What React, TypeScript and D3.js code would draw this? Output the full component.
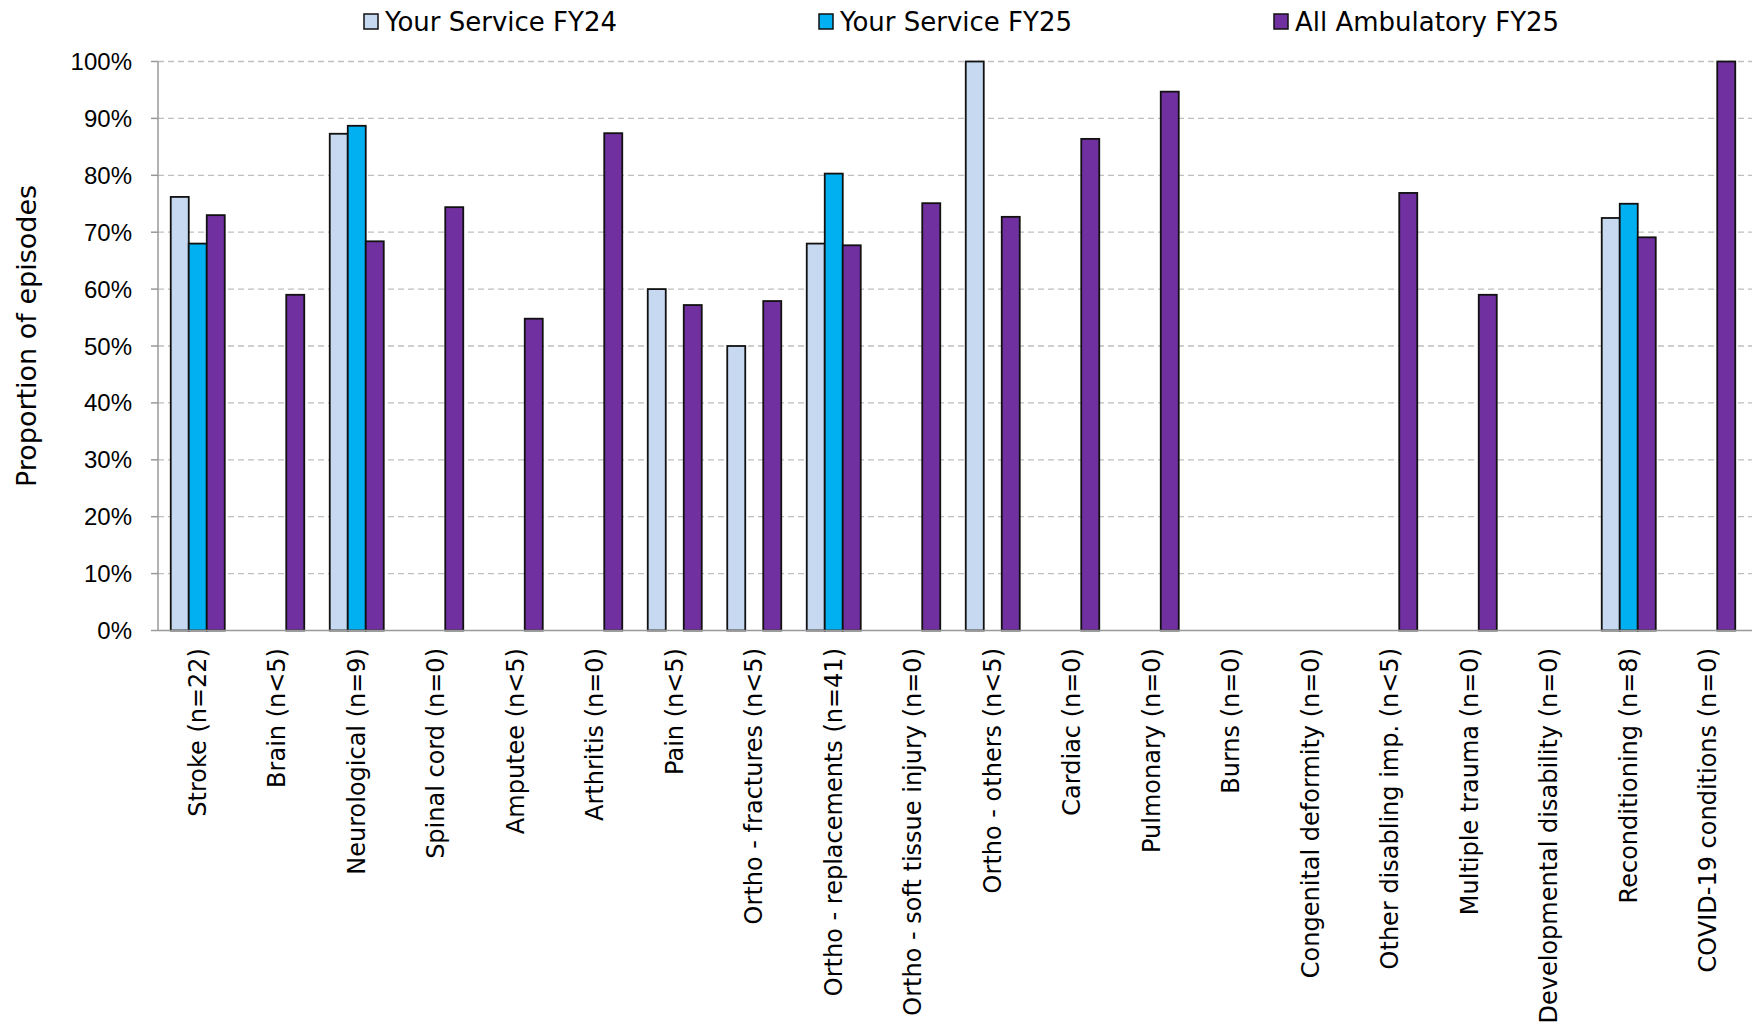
import React from "react";
import * as d3 from "d3";

const categories = [
  "Stroke (n=22)",
  "Brain (n<5)",
  "Neurological (n=9)",
  "Spinal cord (n=0)",
  "Amputee (n<5)",
  "Arthritis (n=0)",
  "Pain (n<5)",
  "Ortho - fractures (n<5)",
  "Ortho - replacements (n=41)",
  "Ortho - soft tissue injury (n=0)",
  "Ortho - others (n<5)",
  "Cardiac (n=0)",
  "Pulmonary (n=0)",
  "Burns (n=0)",
  "Congenital deformity (n=0)",
  "Other disabling imp. (n<5)",
  "Multiple trauma (n=0)",
  "Developmental disability (n=0)",
  "Reconditioning (n=8)",
  "COVID-19 conditions (n=0)",
];

const seriesNames = ["Your Service FY24", "Your Service FY25", "All Ambulatory FY25"];

const serviceFY24: (number | null)[] = [
  0.762, null, 0.873, null, null, null, 0.6, 0.5, 0.68, null,
  1.0, null, null, null, null, null, null, null, 0.725, null,
];
const serviceFY25: (number | null)[] = [
  0.68, null, 0.887, null, null, null, null, null, 0.803, null,
  null, null, null, null, null, null, null, null, 0.75, null,
];
const allAmbulatoryFY25: (number | null)[] = [
  0.73, 0.59, 0.684, 0.744, 0.548, 0.874, 0.572, 0.579, 0.677, 0.751,
  0.727, 0.864, 0.947, null, null, 0.769, 0.59, null, 0.691, 1.0,
];

const yTicks = [0, 0.1, 0.2, 0.3, 0.4, 0.5, 0.6, 0.7, 0.8, 0.9, 1.0];

const colors = ["#C6D9F1", "#00B0F0", "#7030A0"];
const seriesValues = [serviceFY24, serviceFY25, allAmbulatoryFY25];

const FONT = "'Liberation Sans', Arial, sans-serif";
const WIDE = "'DejaVu Sans', Verdana, sans-serif";

export default function App() {
  const width = 1752;
  const height = 1025;
  const left = 158;
  const right = 1748;
  const top = 61.5;
  const bottom = 630.5;
  const groupWidth = 54;

  const x0 = d3.scaleBand<string>().domain(categories).range([left, right]);
  const x1 = d3.scaleBand<string>().domain(seriesNames).range([0, groupWidth]);
  const y = d3.scaleLinear().domain([0, 1]).range([bottom, top]);
  const groupOffset = (x0.bandwidth() - groupWidth) / 2;

  const legendItems = [
    { name: seriesNames[0], x: 364 },
    { name: seriesNames[1], x: 819 },
    { name: seriesNames[2], x: 1274 },
  ];

  return (
    <svg
      width={width}
      height={height}
      style={{ position: "absolute", left: 0, top: 0, background: "#fff" }}
      fontFamily={FONT}
    >
      {/* gridlines */}
      {yTicks.slice(1).map((t) => (
        <line
          key={"g" + t}
          x1={left}
          x2={width}
          y1={y(t)}
          y2={y(t)}
          stroke="#BFBFBF"
          strokeWidth={1.3}
          strokeDasharray="6,4"
        />
      ))}
      {/* y axis */}
      <line x1={left} x2={left} y1={top} y2={bottom} stroke="#999" strokeWidth={1.5} />
      {yTicks.map((t) => (
        <g key={"t" + t}>
          <line x1={left - 7} x2={left} y1={y(t)} y2={y(t)} stroke="#999" strokeWidth={1.5} />
          <text
            x={132}
            y={y(t)}
            textAnchor="end"
            dominantBaseline="central"
            fontSize={24}
            fill="#000"
          >
            {d3.format(".0%")(t)}
          </text>
        </g>
      ))}
      {/* y title */}
      <text
        transform={`translate(36, ${(top + bottom) / 2 - 10}) rotate(-90)`}
        textAnchor="middle"
        fontSize={27}
        fontFamily={WIDE}
        fill="#000"
      >
        Proportion of episodes
      </text>

      {/* bars */}
      {categories.map((c, i) => (
        <g key={c} transform={`translate(${(x0(c) as number) + groupOffset},0)`}>
          {seriesNames.map((s, j) => {
            const v = seriesValues[j][i];
            if (v === null || v === undefined) return null;
            return (
              <rect
                key={s}
                x={x1(s) as number}
                y={y(v)}
                width={x1.bandwidth()}
                height={bottom - y(v)}
                fill={colors[j]}
                stroke="#111"
                strokeWidth={1.8}
              />
            );
          })}
        </g>
      ))}

      {/* x axis baseline */}
      <line x1={left} x2={width} y1={bottom} y2={bottom} stroke="#999" strokeWidth={1.5} />

      {/* x labels */}
      {categories.map((c) => {
        const cx = (x0(c) as number) + x0.bandwidth() / 2;
        return (
          <text
            key={"l" + c}
            transform={`translate(${cx}, 648) rotate(-90)`}
            textAnchor="end"
            dominantBaseline="central"
            fontSize={24}
            fontFamily={WIDE}
            fill="#000"
          >
            {c}
          </text>
        );
      })}

      {/* legend */}
      {legendItems.map((l, i) => (
        <g key={l.name}>
          <rect x={l.x} y={14} width={14} height={15} fill={colors[i]} stroke="#111" strokeWidth={1.5} />
          <text
            x={l.x + 21}
            y={22}
            dominantBaseline="central"
            fontSize={26}
            fontFamily={WIDE}
            fill="#000"
          >
            {l.name}
          </text>
        </g>
      ))}
    </svg>
  );
}
